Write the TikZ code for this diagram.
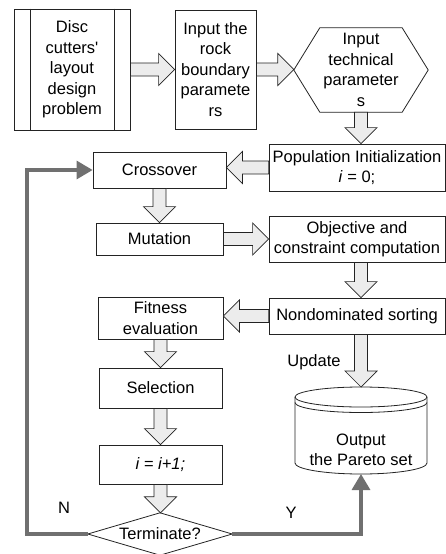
\documentclass[tikz,border=0pt]{standalone}
\usepackage{fontspec}
\setmainfont{Liberation Sans}
\usetikzlibrary{calc,arrows.meta}
\definecolor{lnk}{RGB}{112,112,112}
\definecolor{afill}{RGB}{236,236,236}
\definecolor{edge}{RGB}{35,35,35}
\newcommand\blockarrow[2]{%
  \coordinate (ba) at (#1);
  \coordinate (bb) at (#2);
  \coordinate (bc) at ($(bb)!16pt!(ba)$);
  \draw[blk] ($(ba)!6.5pt!90:(bb)$) -- ($(bc)!6.5pt!-90:(ba)$) -- ($(bc)!16pt!-90:(ba)$) -- (bb) -- ($(bc)!16pt!90:(ba)$) -- ($(bc)!6.5pt!90:(ba)$) -- ($(ba)!6.5pt!-90:(bb)$) -- cycle;
}
\begin{document}
\begin{tikzpicture}[x=1pt,y=-1pt,
  txt/.style={font=\fontsize{16.5}{20.5}\selectfont, align=center, inner sep=0pt},
  box/.style={txt, draw=edge, line width=0.8pt},
  shp/.style={draw=edge, line width=0.8pt},
  blk/.style={draw=edge, fill=afill, line width=0.7pt, line join=miter},
  link/.style={draw=lnk, line width=3.2pt, -{Triangle[width=18pt,length=16pt]}}]
\useasboundingbox (0,0) rectangle (446,554);

% top row
\node[box, minimum width=116pt, minimum height=121pt] (b1) at (72,69.5) {Disc\\cutters\textquotesingle\\layout\\design\\problem};
\draw[shp] ([xshift=17pt]b1.north west) -- ([xshift=17pt]b1.south west);
\draw[shp] ([xshift=-16pt]b1.north east) -- ([xshift=-16pt]b1.south east);
\node[box, minimum width=81pt, minimum height=119pt] (b2) at (215.5,69.5) {Input the\\rock\\boundary\\paramete\\rs};
\node[txt, minimum width=134pt, minimum height=84pt] (hex) at (361,70) {Input\\technical\\parameter\\s};
\draw[shp] (hex.west) -- ([xshift=26pt]hex.north west) -- ([xshift=-26pt]hex.north east) -- (hex.east) -- ([xshift=-26pt]hex.south east) -- ([xshift=26pt]hex.south west) -- cycle;

% right column
\node[box, minimum width=176pt, minimum height=47pt] (pop) at (357,167.5) {Population Initialization\\\textit{i} = 0;};
\node[box, minimum width=176pt, minimum height=46pt] (obj) at (357,239) {Objective and\\constraint computation};
\node[box, minimum width=176pt, minimum height=36pt] (nond) at (357,316) {Nondominated sorting};

% left column
\node[box, minimum width=133pt, minimum height=36pt] (cross) at (159.5,170) {Crossover};
\node[box, minimum width=127pt, minimum height=32pt] (mut) at (159.5,239) {Mutation};
\node[box, minimum width=125pt, minimum height=42pt] (fit) at (160.5,318) {Fitness\\evaluation};
\node[box, minimum width=123pt, minimum height=40pt] (sel) at (160.5,388) {Selection};
\node[box, minimum width=123pt, minimum height=39pt] (inc) at (160.5,464.5) {\textit{i = i+1;}};
\node[txt, minimum width=144pt, minimum height=42pt] (term) at (160,534) {Terminate?};
\draw[shp] (term.west) -- (term.north) -- (term.east) -- (term.south) -- cycle;

% cylinder
\node[txt] (cyl) at (361,450) {Output\\the Pareto set};
\coordinate (cyltop) at (361,387);
\coordinate (cylbot) at (361,474);
\draw[shp] (361,397) ellipse [x radius=66pt, y radius=10pt];
\draw[shp] (295,402.5) arc[start angle=180, end angle=360, x radius=66pt, y radius=10pt];
\draw[shp] (295,397) -- (295,463) arc[start angle=180, end angle=360, x radius=66pt, y radius=11pt] -- (427,397);

% labels
\node[txt] (lU) at (314,362) {Update};
\node[txt] (lN) at (64,508) {N};
\node[txt] (lY) at (291,513) {Y};

% block arrows
\blockarrow{b1.east}{b2.west}
\blockarrow{b2.east}{hex.west |- b2.east}
\blockarrow{hex.south}{hex.south |- pop.north}
\blockarrow{pop.west}{pop.west -| cross.east}
\blockarrow{cross.south}{cross.south |- mut.north}
\blockarrow{mut.east}{mut.east -| obj.west}
\blockarrow{obj.south -| hex.south}{nond.north -| hex.south}
\blockarrow{nond.west}{nond.west -| fit.east}
\blockarrow{fit.south}{fit.south |- sel.north}
\blockarrow{sel.south}{sel.south |- inc.north}
\blockarrow{inc.south}{inc.south |- term.north}
\blockarrow{nond.south -| cyltop}{cyltop}

% loop connectors
\coordinate (nc) at (27,534);
\draw[link] (term.west) -- (nc) |- (cross.west);
\draw[link] (term.east) -| (cylbot);
\end{tikzpicture}
\end{document}
